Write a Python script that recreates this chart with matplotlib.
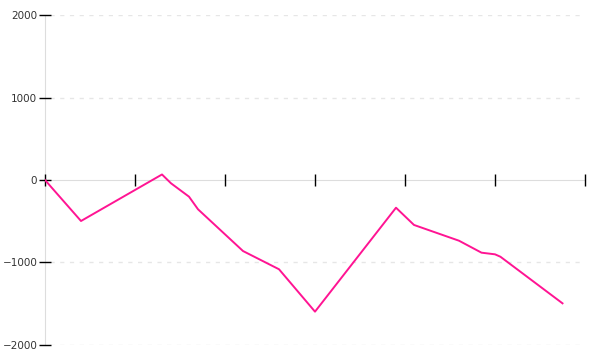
import numpy as np
import matplotlib
matplotlib.use("Agg")
import matplotlib.pyplot as plt

# data (x in days, y cumulative value)
days = [0, 4, 13, 14, 16, 17, 22, 26, 30, 39, 41, 46, 48.5, 50, 50.6, 57.5]
values = [0, -497, 67, -40, -202, -355, -861, -1082, -1596, -336, -545, -736, -881, -901, -930, -1495]
y_ticks = [-2000, -1000, 0, 1000, 2000]
x_ticks = [0, 10, 20, 30, 40, 50, 60]

fig = plt.figure(figsize=(6, 3.6), dpi=100)
ax = fig.add_axes([0.075, 0.0417, 0.9, 0.9166])

# dashed horizontal grid, skip the zero line (that's the axis)
for yv in y_ticks:
    if yv != 0:
        ax.plot([0.6, 60], [yv, yv], color="#e6e6e6", lw=1, ls=(0, (3, 4)), zorder=0)

ax.plot(days, values, color="#ff1493", lw=1.4, zorder=3)

ax.set_xlim(0, 60)
ax.set_ylim(-2000, 2000)

for s in ["top", "right"]:
    ax.spines[s].set_visible(False)
ax.spines["bottom"].set_position(("data", 0))
ax.spines["left"].set_position(("data", 0))
ax.spines["bottom"].set_color("#dddddd")
ax.spines["left"].set_color("#dddddd")
ax.spines["bottom"].set_zorder(0.5)
ax.spines["left"].set_zorder(0.5)

ax.set_xticks(x_ticks)
ax.set_xticklabels([])
ax.set_yticks(y_ticks)
ax.tick_params(axis="x", direction="inout", length=9, width=1, color="black")
ax.tick_params(axis="y", direction="inout", length=9, width=1, color="black",
               labelsize=7.5, pad=1, labelcolor="#333333")

fig.savefig("out.png", dpi=100)
